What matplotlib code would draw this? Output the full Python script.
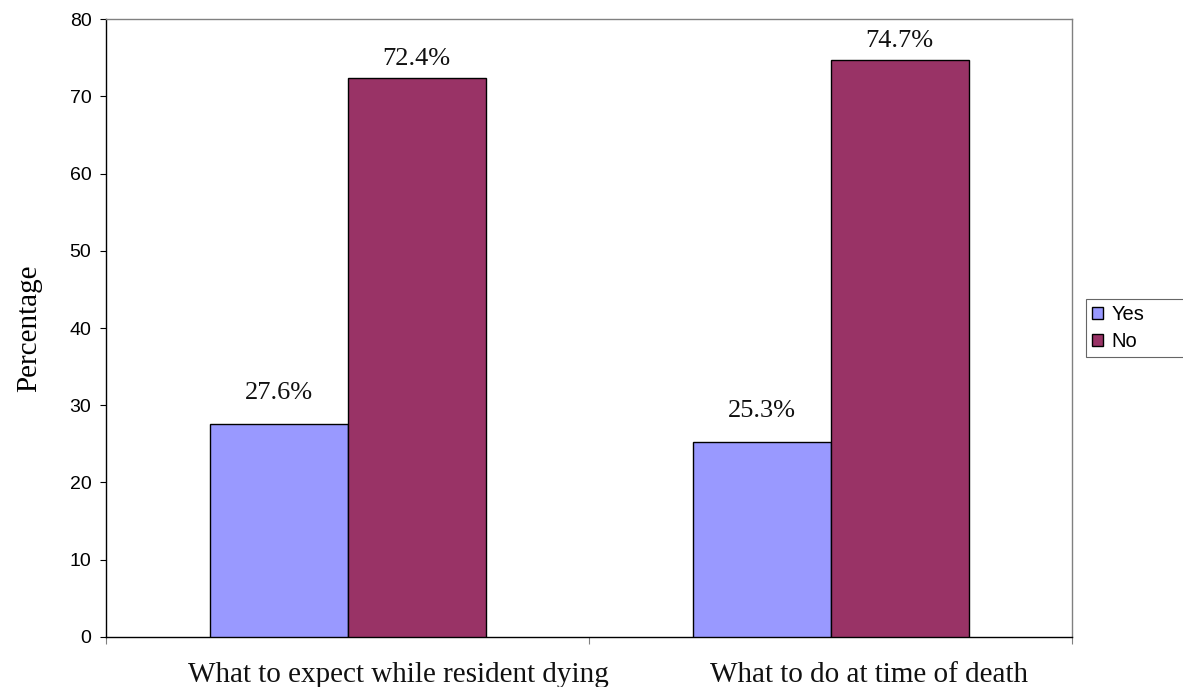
import matplotlib
matplotlib.use("Agg")
import matplotlib.pyplot as plt
import matplotlib.transforms as mtransforms
import numpy as np

categories = ["What to expect while resident dying", "What to do at time of death"]
series_names = ["Yes", "No"]
yes_values = [27.6, 25.3]
no_values = [72.4, 74.7]
y_ticks = [0, 10, 20, 30, 40, 50, 60, 70, 80]

colors = {"Yes": "#9999FF", "No": "#993366"}
label_gap = {"Yes": 18, "No": 9}  # points between bar top and value label baseline

fig = plt.figure(figsize=(11.83, 6.87), dpi=100)
ax = fig.add_axes([0.0896, 0.0728, 0.9062 - 0.0896, 0.9723 - 0.0728])

x = np.arange(len(categories))
w = 1 / 3.5
for i, (name, vals) in enumerate(zip(series_names, [yes_values, no_values])):
    pos = x + (i - 0.5) * w
    ax.bar(pos, vals, width=w, color=colors[name], edgecolor="black",
           linewidth=1.0, label=name, zorder=3)
    for px, v in zip(pos, vals):
        ax.annotate(f"{v}%", (px, v), xytext=(0, label_gap[name]),
                    textcoords="offset points", ha="center", va="baseline",
                    fontsize=19, family="Liberation Serif", color="#111111")

ax.set_xlim(-0.5, len(categories) - 0.5)
ax.set_ylim(0, 80)
ax.set_yticks(y_ticks)
ax.set_yticklabels([str(t) for t in y_ticks], family="Liberation Sans", fontsize=14)
ax.tick_params(axis="y", direction="out", length=4.5, width=0.8, pad=6)

# category names sit under each group, anchored a little right of centre
ax.set_xticks(x)
ax.set_xticklabels([])
ax.tick_params(axis="x", which="major", length=0)
ax.set_xticks(np.arange(-0.5, len(categories)), minor=True)
ax.tick_params(axis="x", which="minor", direction="out", length=5, width=0.8,
               color="#808080")

cat_trans = mtransforms.blended_transform_factory(ax.transData, ax.transAxes)
cat_texts = [ax.text(xi, 0, name, transform=cat_trans, ha="center", va="baseline",
                     fontsize=21, family="Liberation Serif", color="#111111")
             for xi, name in zip(x, categories)]
fig.canvas.draw()
renderer = fig.canvas.get_renderer()
for t in cat_texts:
    wpx = t.get_window_extent(renderer).width
    t.set_transform(cat_trans + mtransforms.ScaledTranslation(
        0.121 * wpx / fig.dpi, -45 / fig.dpi, fig.dpi_scale_trans))

ax.set_ylabel("Percentage", family="Liberation Serif", fontsize=21, labelpad=20)

for side in ["top", "right"]:
    ax.spines[side].set_color("#808080")
    ax.spines[side].set_linewidth(1.0)
for side in ["left", "bottom"]:
    ax.spines[side].set_color("black")
    ax.spines[side].set_linewidth(1.0)

leg = fig.legend(loc="upper left",
                 bbox_to_anchor=(1086 / 1183, 1 - 299 / 687, 0.2, 0), mode="expand",
                 prop={"family": "Liberation Sans", "size": 14.5},
                 frameon=True, fancybox=False, edgecolor="#404040",
                 handlelength=0.52, handleheight=0.52, handletextpad=0.45,
                 borderpad=0.3, labelspacing=0.4, borderaxespad=0)
leg.get_frame().set_linewidth(0.8)

fig.savefig("out.png", dpi=100)
